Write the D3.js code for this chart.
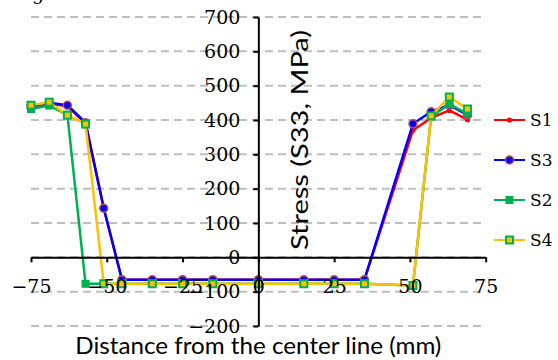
<!DOCTYPE html>
<html>
<head>
<meta charset="utf-8">
<script src="https://cdn.jsdelivr.net/npm/d3@7"></script>
<style>
  body { margin: 0; background: #fff; }
  svg { display: block; }
</style>
</head>
<body>
<svg id="chart" width="558" height="360"></svg>
<script>
// data
const distance = [-75, -69, -63, -57, -51, -45, -35, -25, -15, 0, 15, 25, 35, 51, 57, 63, 69];
const s1 = [437, 448, 440, 390, 143, -65, -65, -65, -65, -65, -65, -65, -65, 370, 406, 428, 401];
const s3 = [440, 450, 443, 392, 143, -65, -65, -65, -65, -65, -65, -65, -65, 389, 424, 443, 415];
const s2 = [432, 442, 415, -77, -77, -77, -77, -77, -77, -77, -77, -77, -77, -82, 410, 446, 418];
const s4 = [443, 452, 414, 388, -77, -77, -77, -77, -77, -77, -77, -77, -77, -82, 412, 467, 432];
const xTicks = [-75, -50, -25, 0, 25, 50, 75];
const yTicks = [-200, -100, 0, 100, 200, 300, 400, 500, 600, 700];

const serif = 'DejaVu Serif';
const sans = 'Lato';

const svg = d3.select('#chart');

const x = d3.scaleLinear().domain([-75, 75]).range([31, 485.7]);
const y = d3.scaleLinear().domain([-200, 700]).range([326, 17]);

// dashed gridlines
svg.append('g')
  .selectAll('line')
  .data(yTicks)
  .enter()
  .append('line')
  .attr('x1', x(-75))
  .attr('x2', x(75))
  .attr('y1', d => y(d))
  .attr('y2', d => y(d))
  .attr('stroke', '#bfbfbf')
  .attr('stroke-width', 2)
  .attr('stroke-dasharray', '8,5');

// series, drawn in legend order
const series = [
  { name: 'S1', values: s1, line: '#ff0000', shape: 'circle', r: 2.6, fill: '#ff0000', edge: 'none' },
  { name: 'S3', values: s3, line: '#0000ff', shape: 'circle', r: 4, fill: '#0000ff', edge: '#c0504d' },
  { name: 'S2', values: s2, line: '#00b050', shape: 'square', r: 4, fill: '#00b050', edge: 'none' },
  { name: 'S4', values: s4, line: '#ffc000', shape: 'square', r: 3.5, fill: '#ffc000', edge: '#00b050' }
];

const line = d3.line()
  .x(d => x(d[0]))
  .y(d => y(d[1]));

function drawMarker(g, s, cx, cy) {
  if (s.shape === 'circle') {
    g.append('circle')
      .attr('cx', cx).attr('cy', cy).attr('r', s.r)
      .attr('fill', s.fill)
      .attr('stroke', s.edge)
      .attr('stroke-width', 1.5);
  } else {
    g.append('rect')
      .attr('x', cx - s.r).attr('y', cy - s.r)
      .attr('width', s.r * 2).attr('height', s.r * 2)
      .attr('fill', s.fill)
      .attr('stroke', s.edge)
      .attr('stroke-width', 2);
  }
}

series.forEach(s => {
  const pts = distance.map((d, i) => [d, s.values[i]]);
  const g = svg.append('g');
  g.append('path')
    .attr('d', line(pts))
    .attr('fill', 'none')
    .attr('stroke', s.line)
    .attr('stroke-width', 2.5)
    .attr('stroke-linejoin', 'round');
  pts.forEach(p => drawMarker(g, s, x(p[0]), y(p[1])));
});

// axes cross at the origin
const yAxis = svg.append('g')
  .attr('transform', `translate(${x(0)},0)`)
  .call(d3.axisLeft(y).tickValues(yTicks).tickSize(5).tickSizeOuter(0).tickPadding(13));

const xAxis = svg.append('g')
  .attr('transform', `translate(0,${y(0)})`)
  .call(d3.axisBottom(x).tickValues(xTicks).tickSize(5).tickSizeOuter(0).tickPadding(17));

[yAxis, xAxis].forEach(a => {
  a.attr('font-family', serif).attr('font-size', 19);
  a.selectAll('path, line').attr('stroke', '#000').attr('stroke-width', 2);
  a.selectAll('text').attr('fill', '#000');
});

// axis titles
svg.append('text')
  .attr('x', x(0))
  .attr('y', 354)
  .attr('text-anchor', 'middle')
  .attr('font-family', sans)
  .attr('font-size', 23)
  .attr('textLength', 366)
  .attr('lengthAdjust', 'spacingAndGlyphs')
  .text('Distance from the center line (mm)');

svg.append('text')
  .attr('transform', `translate(308,140) rotate(-90)`)
  .attr('text-anchor', 'middle')
  .attr('font-family', sans)
  .attr('font-size', 23)
  .attr('textLength', 220)
  .attr('lengthAdjust', 'spacingAndGlyphs')
  .text('Stress (S33, MPa)');

// legend
const legendY = [120, 160, 200, 240];
series.forEach((s, i) => {
  const g = svg.append('g').attr('transform', `translate(0,${legendY[i]})`);
  g.append('line')
    .attr('x1', 494).attr('x2', 525)
    .attr('stroke', s.line)
    .attr('stroke-width', 2);
  drawMarker(g, s, 509.5, 0);
  g.append('text')
    .attr('x', 530)
    .attr('y', 6)
    .attr('font-family', serif)
    .attr('font-size', 17)
    .text(s.name);
});

// clipped caption fragment at the top edge
svg.append('text')
  .attr('x', 32)
  .attr('y', 0)
  .attr('font-family', serif)
  .attr('font-size', 19)
  .text('g');
</script>
</body>
</html>
